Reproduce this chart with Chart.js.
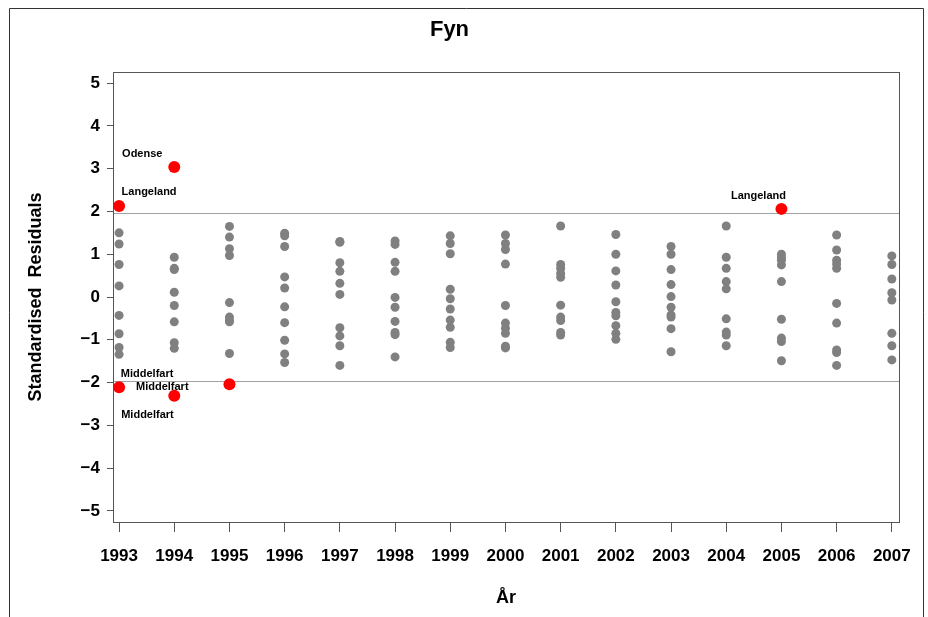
<!DOCTYPE html>
<html>
<head>
<meta charset="utf-8">
<script src="https://cdn.jsdelivr.net/npm/chart.js@4/dist/chart.umd.min.js"></script>
<style>
  html, body { margin: 0; padding: 0; background: #fff; }
  #wrap { position: relative; width: 928px; height: 617px; }
</style>
</head>
<body>
<div id="wrap"><canvas id="residualChart"></canvas></div>
<script>
// tick labels
const years = [1993, 1994, 1995, 1996, 1997, 1998, 1999, 2000, 2001, 2002, 2003, 2004, 2005, 2006, 2007];
const yTicks = [-5, -4, -3, -2, -1, 0, 1, 2, 3, 4, 5];
const cutoff = 1.96;

// standardised residuals per year (grey points)
const res1993 = [1.50, 1.24, 0.76, 0.26, -0.43, -0.86, -1.18, -1.34];
const res1994 = [0.93, 0.67, 0.64, 0.11, -0.20, -0.58, -1.07, -1.20];
const res1995 = [1.65, 1.40, 1.13, 0.97, -0.13, -0.47, -0.54, -0.58, -1.32];
const res1996 = [1.49, 1.43, 1.18, 0.47, 0.21, -0.23, -0.60, -1.01, -1.33, -1.53];
const res1997 = [1.30, 1.28, 0.80, 0.60, 0.32, 0.06, -0.72, -0.91, -1.14, -1.60];
const res1998 = [1.31, 1.23, 0.81, 0.60, -0.01, -0.24, -0.57, -0.83, -0.88, -1.40];
const res1999 = [1.43, 1.25, 1.01, 0.18, -0.04, -0.28, -0.54, -0.71, -1.06, -1.18];
const res2000 = [1.45, 1.25, 1.11, 0.77, -0.20, -0.61, -0.73, -0.85, -1.15, -1.19];
const res2001 = [1.66, 0.76, 0.67, 0.55, 0.46, -0.19, -0.47, -0.55, -0.83, -0.89];
const res2002 = [1.46, 1.00, 0.61, 0.28, -0.11, -0.36, -0.44, -0.67, -0.85, -0.99];
const res2003 = [1.18, 1.00, 0.64, 0.29, 0.01, -0.24, -0.42, -0.47, -0.74, -1.28];
const res2004 = [1.66, 0.93, 0.67, 0.36, 0.19, -0.51, -0.82, -0.89, -1.14];
const res2005 = [1.00, 0.92, 0.86, 0.75, 0.36, -0.52, -0.96, -1.04, -1.49];
const res2006 = [1.45, 1.10, 0.86, 0.77, 0.67, -0.15, -0.61, -1.24, -1.30, -1.60];
const res2007 = [0.96, 0.76, 0.42, 0.10, -0.07, -0.85, -1.14, -1.47];

// outliers (red points, labelled)
const outlierYears = [1993, 1994, 1993, 1994, 1995, 2005];
const outlierValues = [2.13, 3.04, -2.11, -2.31, -2.04, 2.06];
const outlierNames = ["Langeland", "Odense", "Middelfart", "Middelfart", "Middelfart", "Langeland"];

const FONT = '"Liberation Sans", Arial, Helvetica, sans-serif';

const allRes = [res1993, res1994, res1995, res1996, res1997, res1998, res1999, res2000,
  res2001, res2002, res2003, res2004, res2005, res2006, res2007];
const greyPoints = [];
allRes.forEach((vals, i) => {
  vals.forEach((v) => greyPoints.push({ x: years[i], y: v }));
});
const redPoints = outlierYears.map((yr, i) => ({ x: yr, y: outlierValues[i], name: outlierNames[i] }));

// label placement relative to the red points (pixels)
const labelOffsets = [[30, -14], [-32, -13], [28, -13], [-12, -9], [-82, 31], [-23, -13]];

const framePlugin = {
  id: "framePlugin",
  beforeDraw(chart) {
    const ctx = chart.ctx;
    ctx.save();
    ctx.strokeStyle = "#333";
    ctx.lineWidth = 1;
    ctx.beginPath();
    ctx.moveTo(9.5, 617);
    ctx.lineTo(9.5, 8.5);
    ctx.lineTo(923.5, 8.5);
    ctx.lineTo(923.5, 617);
    ctx.stroke();
    ctx.restore();
  },
  beforeDatasetsDraw(chart) {
    const ctx = chart.ctx;
    const a = chart.chartArea;
    const yScale = chart.scales.y;
    ctx.save();
    ctx.strokeStyle = "#a0a0a0";
    ctx.lineWidth = 1;
    [cutoff, -cutoff].forEach((v) => {
      const py = Math.round(yScale.getPixelForValue(v)) + 0.5;
      ctx.beginPath();
      ctx.moveTo(a.left, py);
      ctx.lineTo(a.right, py);
      ctx.stroke();
    });
    ctx.strokeStyle = "#555";
    ctx.strokeRect(Math.round(a.left) + 0.5, Math.round(a.top) + 0.5,
      Math.round(a.right - a.left), Math.round(a.bottom - a.top));
    ctx.restore();
  },
  afterDatasetsDraw(chart) {
    const ctx = chart.ctx;
    const xs = chart.scales.x;
    const ys = chart.scales.y;
    ctx.save();
    ctx.font = "bold 11px " + FONT;
    ctx.fillStyle = "#000";
    ctx.textAlign = "center";
    ctx.textBaseline = "middle";
    redPoints.forEach((p, i) => {
      const off = labelOffsets[i];
      ctx.fillText(p.name, xs.getPixelForValue(p.x) + off[0], ys.getPixelForValue(p.y) + off[1]);
    });
    ctx.restore();
  },
};

const ctx = document.getElementById("residualChart").getContext("2d");
new Chart(ctx, {
  type: "scatter",
  data: {
    datasets: [
      {
        label: "Residuals",
        data: greyPoints,
        backgroundColor: "#808080",
        borderColor: "#808080",
        pointRadius: 4.5,
        borderWidth: 0,
      },
      {
        label: "Outliers",
        data: redPoints,
        backgroundColor: "#ff0000",
        borderColor: "#ff0000",
        pointRadius: 6,
        borderWidth: 0,
      },
    ],
  },
  options: {
    responsive: true,
    maintainAspectRatio: false,
    animation: false,
    layout: { padding: { left: 0, top: 0, right: 29, bottom: 0 } },
    plugins: {
      legend: { display: false },
      tooltip: { enabled: false },
      title: {
        display: true,
        text: "Fyn",
        color: "#000",
        font: { family: FONT, size: 22, weight: "bold", lineHeight: 1.2 },
        padding: { top: 17, bottom: 28.6 },
      },
    },
    scales: {
      x: {
        type: "linear",
        min: 1992.89,
        max: 2007.13,
        afterBuildTicks: (s) => { s.ticks = years.map((v) => ({ value: v })); },
        afterFit: (s) => { s.height = 95; },
        ticks: {
          color: "#000",
          font: { family: FONT, size: 17, weight: "bold" },
          padding: 14,
          maxRotation: 0,
          autoSkip: false,
          callback: (v) => String(v),
        },
        grid: { display: true, drawOnChartArea: false, drawTicks: true, tickLength: 10, color: "#555" },
        border: { display: true, color: "#555" },
        title: {
          display: true,
          text: "År",
          color: "#000",
          font: { family: FONT, size: 18, weight: "bold", lineHeight: 1.2 },
          padding: { top: 0, bottom: 8 },
        },
      },
      y: {
        type: "linear",
        min: -5.26,
        max: 5.26,
        afterBuildTicks: (s) => { s.ticks = yTicks.map((v) => ({ value: v })); },
        afterFit: (s) => { s.width = 113; },
        ticks: {
          color: "#000",
          font: { family: FONT, size: 17, weight: "bold" },
          padding: 7,
          callback: (v) => (v < 0 ? "\u2212" + Math.abs(v) : String(v)),
        },
        grid: { display: true, drawOnChartArea: false, drawTicks: true, tickLength: 6, color: "#555" },
        border: { display: true, color: "#555" },
        title: {
          display: true,
          text: "Standardised  Residuals",
          color: "#000",
          font: { family: FONT, size: 18, weight: "bold", lineHeight: 1.2 },
          padding: { top: 25, bottom: 0 },
        },
      },
    },
  },
  plugins: [framePlugin],
});
</script>
</body>
</html>
